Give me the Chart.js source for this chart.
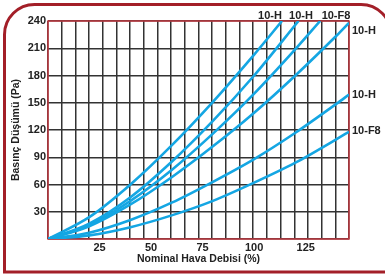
<!DOCTYPE html>
<html>
<head>
<meta charset="utf-8">
<script src="https://cdn.jsdelivr.net/npm/chart.js@4.4.1/dist/chart.umd.min.js"></script>
<style>
html,body{margin:0;padding:0;background:#fff;}
#wrap{width:385px;height:274px;}
</style>
</head>
<body>
<div id="wrap"><canvas id="chart"></canvas></div>
<script>
// values: x = Nominal Hava Debisi (%), y = Basınç Düşümü (Pa)
const names = ['10-H', '10-H', '10-F8', '10-H', '10-H', '10-F8'];

const flow1 = [0, 20, 40, 60, 80, 100, 113.5];
const drop1 = [0, 24, 60, 103, 151, 203, 240];

const flow2 = [0, 20, 40, 60, 80, 100, 121.5];
const drop2 = [0, 17, 46, 85, 130, 180, 240];

const flow3 = [0, 20, 40, 60, 80, 100, 120, 132];
const drop3 = [0, 15, 42, 76, 116, 160, 209, 240];

const flow4 = [0, 20, 40, 60, 80, 100, 120, 140, 146];
const drop4 = [0, 14, 38, 68, 102, 139, 180, 224, 238];

const flow5 = [0, 20, 40, 60, 80, 100, 120, 140, 146];
const drop5 = [0, 7, 21, 40, 63, 88, 117, 149, 159];

const flow6 = [0, 20, 40, 60, 80, 100, 120, 140, 146];
const drop6 = [0, 4, 13, 26, 42, 62, 84, 110, 118];

const xTicks = [25, 50, 75, 100, 125];

const BLUE = '#14a6e3';
const FONT = 'Liberation Sans, Arial, sans-serif';

function pts(xs, ys) {
  return xs.map((x, i) => ({x: x, y: ys[i]}));
}

function curve(label, xs, ys) {
  return {
    label: label,
    data: pts(xs, ys),
    borderColor: BLUE,
    borderWidth: 2.6,
    fill: false,
    pointRadius: 0,
    pointHoverRadius: 0,
    cubicInterpolationMode: 'monotone'
  };
}

// frame round the whole picture + red frame of the plot + curve names
const decor = {
  id: 'decor',
  beforeDraw(chart) {
    const c = chart.ctx;
    c.save();
    c.fillStyle = '#fff';
    c.fillRect(0, 0, chart.width, chart.height);
    c.strokeStyle = '#a31f28';
    c.lineWidth = 3;
    c.beginPath();
    c.moveTo(4.5, 272);
    c.lineTo(4.5, 34);
    c.arcTo(4.5, 4.5, 34, 4.5, 30);
    c.lineTo(360, 4.5);
    c.arcTo(391, 4.5, 391, 34, 30);
    c.lineTo(391, 272);
    c.closePath();
    c.stroke();
    c.restore();
  },
  beforeDatasetsDraw(chart) {
    const a = chart.chartArea;
    const c = chart.ctx;
    c.save();
    c.strokeStyle = '#c23a42';
    c.lineWidth = 1.5;
    c.strokeRect(a.left, a.top, a.right - a.left, a.bottom - a.top);
    c.restore();
  },
  afterDraw(chart) {
    const a = chart.chartArea;
    const c = chart.ctx;
    c.save();
    c.fillStyle = '#222';
    c.font = 'bold 11px ' + FONT;
    c.textBaseline = 'middle';
    c.textAlign = 'center';
    c.fillText(names[0], a.left + 222, a.top - 5);
    c.fillText(names[1], a.left + 253, a.top - 5);
    c.fillText(names[2], a.left + 288, a.top - 5);
    c.textAlign = 'left';
    c.fillText(names[3], a.right + 3, a.top + 10);
    c.fillText(names[4], a.right + 3, a.top + 74);
    c.fillText(names[5], a.right + 3, a.top + 110);
    c.restore();
  }
};

new Chart(document.getElementById('chart'), {
  type: 'line',
  data: {
    datasets: [
      curve(names[0], flow1, drop1),
      curve(names[1], flow2, drop2),
      curve(names[2], flow3, drop3),
      curve(names[3], flow4, drop4),
      curve(names[4], flow5, drop5),
      curve(names[5], flow6, drop6)
    ]
  },
  options: {
    responsive: true,
    maintainAspectRatio: false,
    animation: false,
    events: [],
    layout: {padding: {left: 0, top: 21, right: 36, bottom: 0}},
    plugins: {legend: {display: false}, tooltip: {enabled: false}},
    scales: {
      x: {
        type: 'linear',
        min: 0,
        max: 146,
        afterBuildTicks: s => { s.ticks = xTicks.map(v => ({value: v})); },
        afterFit: s => { s.height = 35; },
        grid: {display: false, drawTicks: false},
        border: {display: false},
        ticks: {
          padding: 2.5,
          color: '#222',
          font: {family: FONT, size: 11, weight: 'bold'}
        },
        title: {
          display: true,
          text: 'Nominal Hava Debisi (%)',
          color: '#222',
          font: {family: FONT, size: 10.5, weight: 'bold'},
          padding: {top: 0, bottom: 8.5}
        }
      },
      xg: {
        type: 'linear',
        position: 'top',
        min: 0,
        max: 22,
        ticks: {display: false, stepSize: 1},
        grid: {color: '#333', lineWidth: 1.5, drawTicks: false},
        border: {display: false}
      },
      y: {
        type: 'linear',
        min: 0,
        max: 240,
        afterFit: s => { s.width = 48; },
        grid: {color: '#333', lineWidth: 1.5, drawTicks: false},
        border: {display: false},
        ticks: {
          stepSize: 15,
          padding: 2,
          color: '#222',
          font: {family: FONT, size: 11, weight: 'bold'},
          callback: v => (v > 0 && v % 30 === 0) ? v : ''
        },
        title: {
          display: true,
          text: 'Basınç Düşümü (Pa)',
          color: '#222',
          font: {family: FONT, size: 10.5, weight: 'bold'},
          padding: {top: 10, bottom: 0}
        }
      }
    }
  },
  plugins: [decor]
});
</script>
</body>
</html>
